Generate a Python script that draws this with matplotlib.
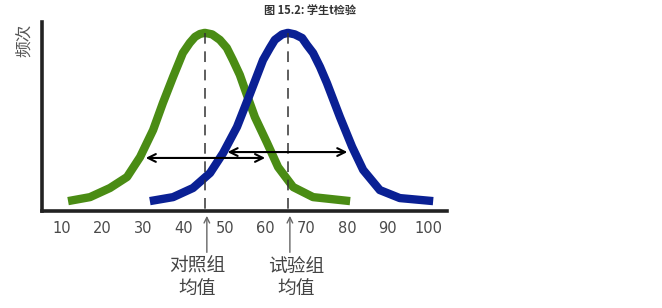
import matplotlib.pyplot as plt

plt.rcParams['font.family'] = ['Noto Sans CJK SC', 'DejaVu Sans']

# control group curve
ctrl_x = [11.5, 16.9, 21.8, 26.0, 29.2, 32.4, 34.8, 37.3, 39.7, 41.4, 42.7,
          43.9, 45.1, 46.9, 48.8, 50.5, 52.0, 53.7, 55.0, 57.4, 60.4, 63.1,
          66.8, 71.7, 80.8]
ctrl_y = [4.7, 6.8, 11.6, 17.4, 27.9, 42.1, 56.3, 70.0, 82.6, 87.9, 91.1,
          92.6, 93.2, 92.4, 89.5, 85.3, 78.9, 71.1, 63.2, 48.9, 35.3, 22.6,
          12.1, 6.8, 4.7]

# test group curve
test_x = [31.6, 37.3, 42.2, 46.4, 49.6, 53.0, 56.2, 59.4, 61.1, 62.3, 64.1,
          65.5, 67.2, 69.0, 70.2, 71.7, 73.4, 75.1, 78.3, 81.3, 84.0, 88.1,
          93.0, 101.2]
test_y = [4.7, 6.8, 11.6, 19.5, 30.0, 43.7, 61.1, 78.9, 85.3, 89.5, 92.4,
          93.2, 92.4, 90.5, 86.8, 82.6, 75.3, 66.8, 48.9, 33.2, 21.1, 10.5,
          6.3, 4.7]

ctrl_mean = 45.1
test_mean = 65.5
peak = 93.2
ctrl_span = (29.9, 60.6)
test_span = (50.0, 80.8)
ticks = [10, 20, 30, 40, 50, 60, 70, 80, 90, 100]

fig = plt.figure(figsize=(6.62, 3.08), dpi=100)
W, H = 662, 308
ax = fig.add_axes([42 / W, (H - 211) / H, (447 - 42) / W, (211 - 22) / H])
ax.set_xlim(5.1, 104.6)
ax.set_ylim(-0.5, 98.9)

green = '#4A8C14'
blue = '#0A2094'

ax.plot(ctrl_x, ctrl_y, color=green, lw=6, solid_capstyle='butt',
        solid_joinstyle='round', zorder=3)
ax.plot(test_x, test_y, color=blue, lw=6, solid_capstyle='butt',
        solid_joinstyle='round', zorder=3)

# mean lines
for m in (ctrl_mean, test_mean):
    ax.plot([m, m], [peak, 0], color='#333333', lw=1.1, ls=(0, (7, 5)), zorder=4)

# spread arrows
arrow_kw = dict(arrowstyle='<->', color='black', lw=1.5, mutation_scale=14)
ax.annotate('', xy=(ctrl_span[0], 27.4), xytext=(ctrl_span[1], 27.4),
            arrowprops=arrow_kw, zorder=5)
ax.annotate('', xy=(test_span[0], 30.5), xytext=(test_span[1], 30.5),
            arrowprops=arrow_kw, zorder=5)

for s in ('top', 'right'):
    ax.spines[s].set_visible(False)
for s in ('left', 'bottom'):
    ax.spines[s].set_linewidth(2.6)
    ax.spines[s].set_color('#222222')

ax.set_yticks([])
ax.set_xticks(ticks)
ax.set_xticklabels([str(t) for t in ticks], fontsize=10.5, color='#4a4a4a',
                   family=['DejaVu Sans'])
ax.tick_params(axis='x', length=0, pad=7)

# arrows and labels under the axis
up_kw = dict(arrowstyle='->', color='#666666', lw=1.0, mutation_scale=10)
for m in (ctrl_mean, test_mean):
    ax.annotate('', xy=(m + 0.5, -1.6), xytext=(m + 0.5, -23.7),
                arrowprops=up_kw, annotation_clip=False)

lab_kw = dict(ha='center', va='center', fontsize=13.5, color='#444444')
ax.text(43.2, -29.5, '对照组', **lab_kw)
ax.text(43.2, -41.1, '均值', **lab_kw)
ax.text(67.5, -29.5, '试验组', **lab_kw)
ax.text(67.5, -41.1, '均值', **lab_kw)

fig.text(310 / W, 1 - 10 / H, '图 15.2: 学生t检验', ha='center', va='center',
         fontsize=8, fontweight='bold', color='#333333')
fig.text(24 / W, 1 - 40 / H, '频次', ha='center', va='center', rotation=90,
         fontsize=12, color='#555555')

fig.savefig('out.png', dpi=100)
